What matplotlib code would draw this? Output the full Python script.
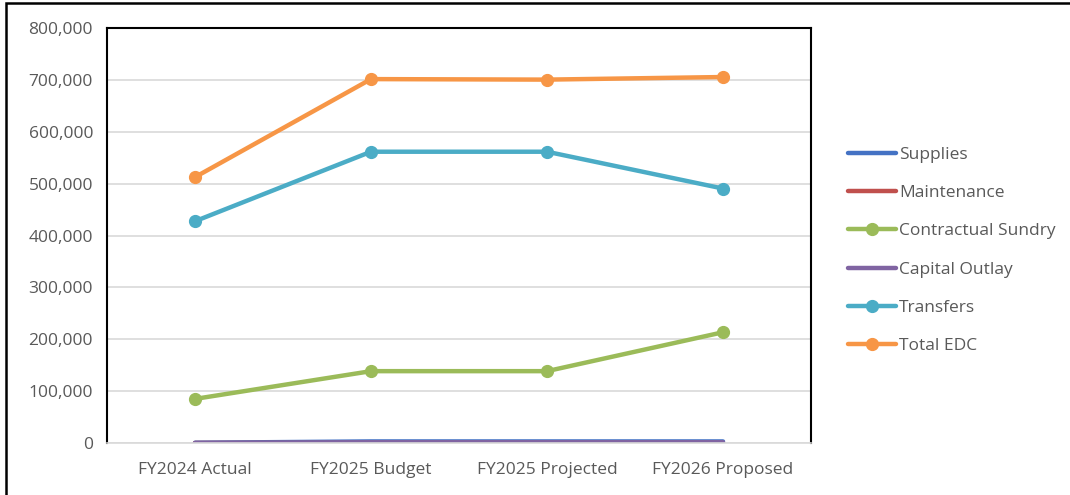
import matplotlib.pyplot as plt
from matplotlib.ticker import FuncFormatter
from matplotlib.patches import Rectangle

plt.rcParams['font.family'] = ['Open Sans', 'DejaVu Sans']

categories = ['FY2024 Actual', 'FY2025 Budget', 'FY2025 Projected', 'FY2026 Proposed']
supplies = [500, 3000, 3000, 3000]
maintenance = [0, 0, 0, 0]
contractual_sundry = [85000, 138500, 138500, 213500]
capital_outlay = [0, 1500, 1500, 1500]
transfers = [427500, 561500, 561500, 490500]
total_edc = [512500, 701500, 700500, 705500]

series = [
    ('Supplies', supplies, '#4472C4', False),
    ('Maintenance', maintenance, '#C0504D', False),
    ('Contractual Sundry', contractual_sundry, '#9BBB59', True),
    ('Capital Outlay', capital_outlay, '#8064A2', False),
    ('Transfers', transfers, '#4BACC6', True),
    ('Total EDC', total_edc, '#F79646', True),
]

fig = plt.figure(figsize=(10.7, 4.95), dpi=100)
ax = fig.add_axes([107 / 1070, 1 - 443 / 495, (811 - 107) / 1070, (443 - 28) / 495])

x = list(range(len(categories)))
for name, vals, color, marker in series:
    ax.plot(x, vals, color=color, lw=3.2, label=name,
            marker='o' if marker else None, ms=8.5, solid_capstyle='round')

ax.set_xlim(-0.5, 3.5)
ax.set_ylim(0, 800000)
ax.set_yticks(range(0, 800001, 100000))
ax.yaxis.set_major_formatter(FuncFormatter(lambda v, p: f'{int(v):,}'))
ax.set_xticks(x)
ax.set_xticklabels(categories)
ax.grid(axis='y', color='#D9D9D9', lw=1.2)
ax.set_axisbelow(True)
ax.tick_params(length=0, labelsize=12.5, colors='#595959', pad=10)
ax.tick_params(axis='x', pad=14)
for s in ['left', 'top', 'right']:
    ax.spines[s].set_color('black')
    ax.spines[s].set_linewidth(1.5)
ax.spines['bottom'].set_color('#D9D9D9')
ax.spines['bottom'].set_linewidth(1.2)

leg = fig.legend(loc='upper left', bbox_to_anchor=(841 / 1070, 1 - 140 / 495),
                 frameon=False, fontsize=12.5, labelspacing=1.27,
                 handlelength=2.75, handletextpad=0.2, borderaxespad=0)
for t in leg.get_texts():
    t.set_color('#595959')

fig.patches.append(Rectangle((6 / 1070, -0.1), 1.2, 1 - 3 / 495 + 0.1,
                             transform=fig.transFigure, fill=False,
                             edgecolor='black', lw=1.8))

fig.savefig('out.png', dpi=100)
